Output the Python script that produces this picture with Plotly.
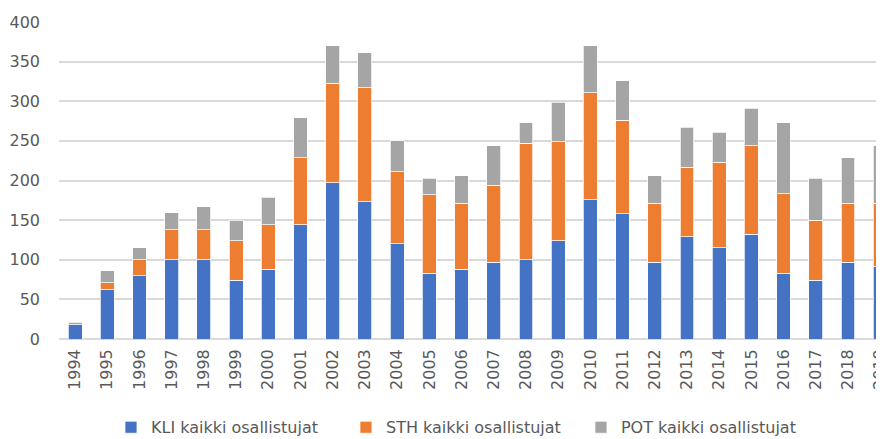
import plotly.graph_objects as go

years = [str(y) for y in range(1994, 2020)]
kli = [18, 62, 80, 100, 100, 74, 88, 144, 197, 173, 120, 83, 88, 97, 100, 124,
       176, 158, 97, 129, 115, 132, 83, 74, 97, 91]
sth = [0, 9, 20, 38, 38, 50, 56, 85, 126, 144, 91, 99, 83, 97, 147, 125,
       135, 118, 74, 88, 108, 112, 100, 76, 74, 80]
pot = [3, 15, 15, 21, 29, 26, 35, 50, 47, 44, 39, 21, 35, 50, 26, 50,
       59, 50, 35, 50, 38, 47, 90, 53, 58, 73]

series = [
    ("KLI kaikki osallistujat", kli, "#4472C4"),
    ("STH kaikki osallistujat", sth, "#ED7D31"),
    ("POT kaikki osallistujat", pot, "#A5A5A5"),
]

fig = go.Figure()
for name, vals, col in series:
    fig.add_trace(go.Bar(
        x=years, y=vals, name=name,
        marker=dict(color=col, line=dict(color="white", width=0.75)),
    ))

font_family = "DejaVu Sans, sans-serif"
# page body has an 8px margin; figure sized to fill the rest of the window
fig.update_layout(
    barmode="stack",
    bargap=0.57,
    width=876, height=431,
    margin=dict(l=51, r=0, t=14, b=100, autoexpand=False),
    plot_bgcolor="white",
    paper_bgcolor="white",
    font=dict(family=font_family, color="#595959"),
    showlegend=True,
    legend=dict(
        orientation="h",
        x=0.063, xanchor="left",
        y=-0.225, yanchor="top",
        font=dict(size=16, color="#595959"),
        traceorder="normal",
        entrywidth=190,
        entrywidthmode="pixels",
    ),
)
fig.update_xaxes(
    type="category",
    range=[-0.5, 25.12],
    tickangle=-90,
    tickfont=dict(size=16, color="#595959"),
    showgrid=False,
    showline=False,
    ticks="",
    automargin=False,
    ticklabelstandoff=6,
)
fig.update_yaxes(
    range=[0, 400],
    dtick=50,
    tickfont=dict(size=16, color="#595959"),
    showgrid=True,
    gridcolor="#D9D9D9",
    gridwidth=1.5,
    zeroline=True,
    zerolinecolor="#D9D9D9",
    zerolinewidth=1.5,
    ticks="",
    automargin=False,
    ticklabelstandoff=18,
)

fig.write_html("out.html")
